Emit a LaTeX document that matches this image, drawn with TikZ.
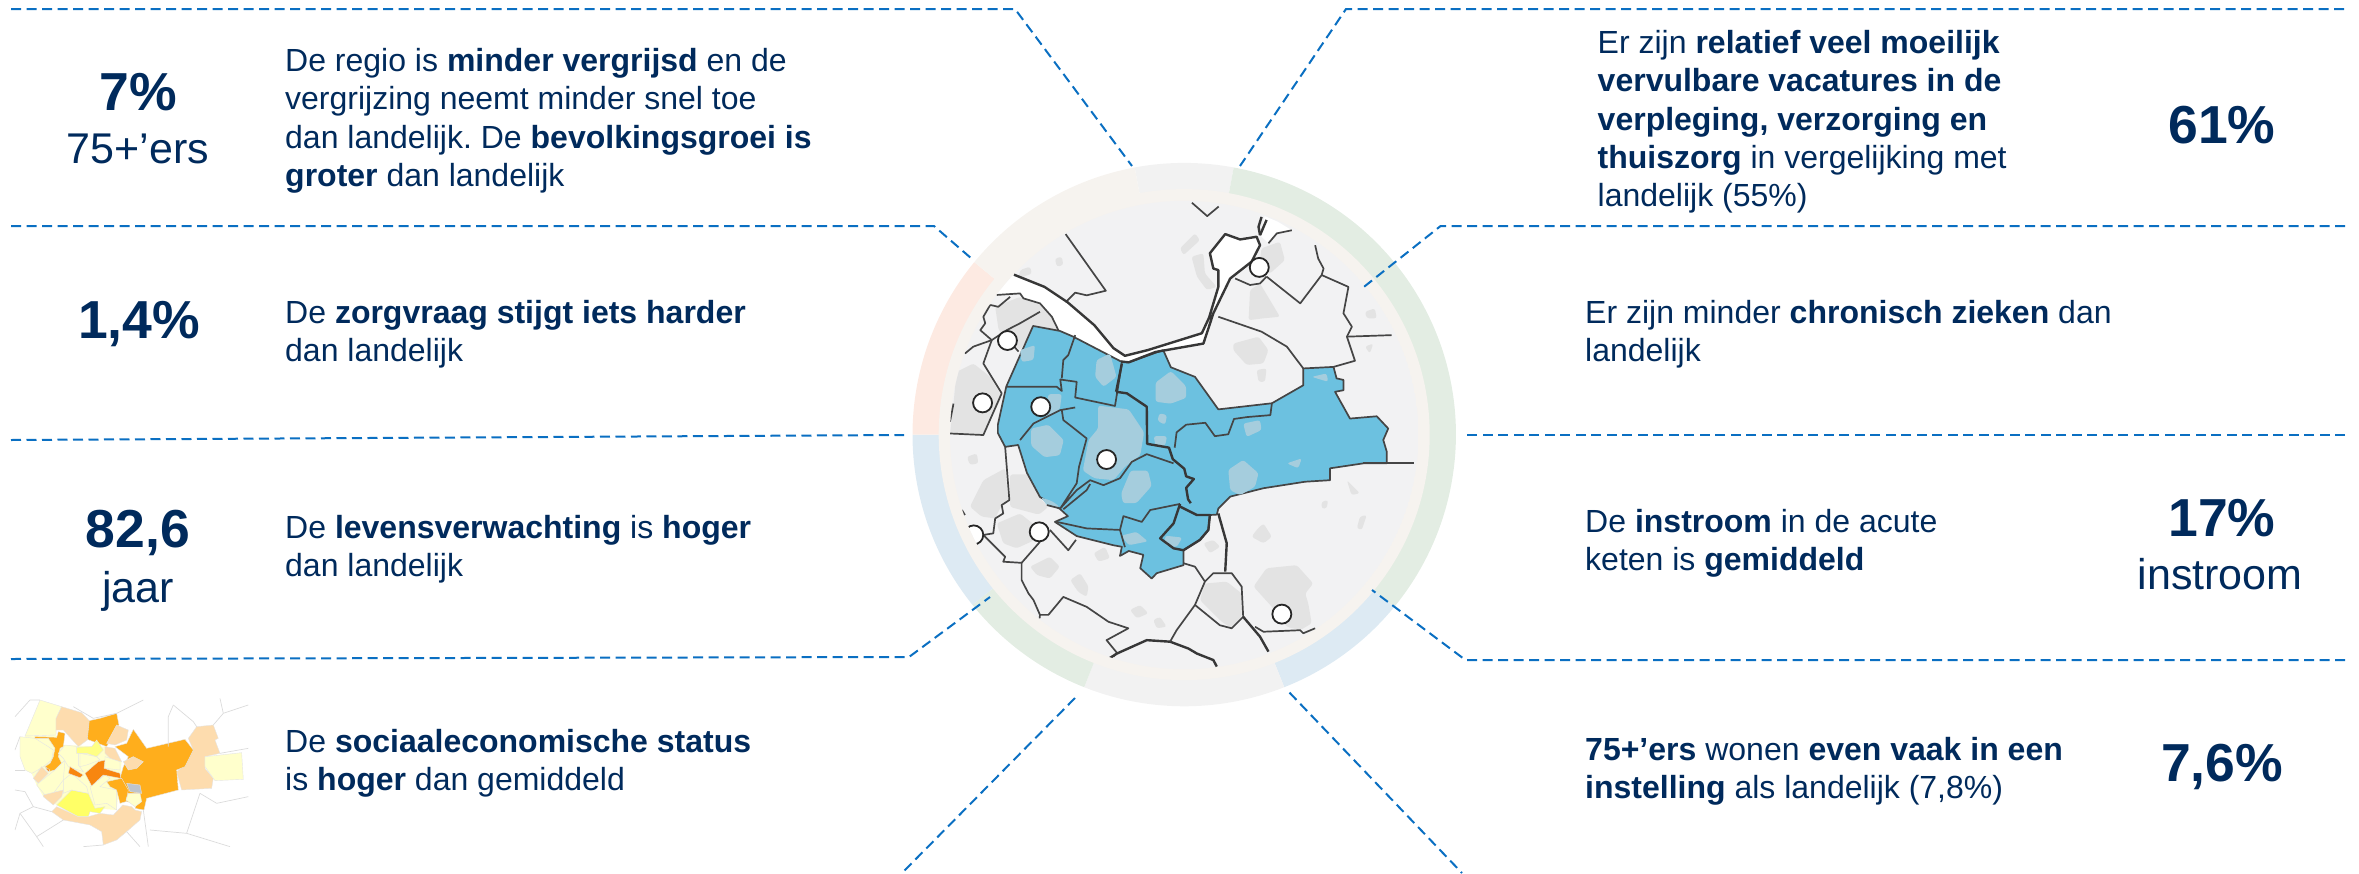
\documentclass[tikz,border=0pt]{standalone}
\usepackage{fontspec}
\setmainfont{Liberation Sans}
\definecolor{navy}{HTML}{002A5C}
\definecolor{dashblue}{HTML}{0A6FC2}
\definecolor{ringgray}{HTML}{F2F2F2}
\definecolor{ringgreen}{HTML}{E3EDE3}
\definecolor{ringblue}{HTML}{DDEAF3}
\definecolor{ringpeach}{HTML}{FDEAE2}
\definecolor{ringbeige}{HTML}{F6F3EF}
\definecolor{mapbg}{HTML}{F2F2F3}
\definecolor{urban}{HTML}{E3E3E3}
\definecolor{regio}{HTML}{6CC1E0}
\definecolor{urbanblue}{HTML}{A5CDDD}
\definecolor{mapline}{HTML}{454545}
\definecolor{ly}{HTML}{FFFFCC}
\definecolor{pe}{HTML}{FDDCAE}
\definecolor{or}{HTML}{FFAE1C}
\definecolor{dor}{HTML}{F8860F}
\definecolor{ye}{HTML}{FFFF66}
\definecolor{gy}{HTML}{BEC4CC}
\newcommand{\tp}{\rule{0pt}{30pt}}
\frenchspacing
\tikzset{
  link/.style={draw=dashblue,line width=2pt,dash pattern=on 10pt off 5.5pt},
  blocktext/.style={inner sep=0pt,anchor=north west,align=left,text=navy,font=\fontsize{32}{38.4}\selectfont},
  bignum/.style={inner sep=0pt,anchor=base,text=navy,font=\fontsize{53.5}{60}\selectfont\bfseries},
  subnum/.style={inner sep=0pt,anchor=base,text=navy,font=\fontsize{43}{50}\selectfont},
  mline/.style={draw=mapline,line width=1.7pt,line join=round},
  tline/.style={draw=mapline!80!black,line width=2.4pt,line join=round},
  pin/.style={circle,draw=black!85,line width=1.8pt,fill=white,minimum size=19pt,inner sep=0pt},
  miniline/.style={draw=black!14,line width=0.7pt},
}
\begin{document}
\begin{tikzpicture}[x=1pt,y=-1pt]
\useasboundingbox (0,0) rectangle (2359,873);
% ring
\begin{scope}[shift={(1184.2,434.6)},x=1pt,y=1pt]
\newcommand{\seg}[3]{\fill[#3] (#1:271.7pt) arc[start angle=#1,end angle=#2,radius=271.7pt] -- (#2:245pt) arc[start angle=#2,end angle=#1,radius=245pt] -- cycle;}
\seg{100.5}{79.5}{ringgray}
\seg{79.5}{-39.4}{ringgreen}
\seg{-39.4}{-68.4}{ringblue}
\seg{-68.4}{-111.6}{ringgray}
\seg{-111.6}{-141.2}{ringgreen}
\seg{-141.2}{-180}{ringblue}
\seg{180}{140.6}{ringpeach}
\seg{140.6}{100.5}{ringbeige}
\fill[ringbeige] (0,0) circle[radius=245.5pt];
\end{scope}
% map
\begin{scope}[shift={(880,130)},x=0.3827pt,y=-0.3827pt]
\clip (795,797) circle[radius=612];
\fill[mapbg] (795,797) circle[radius=612];
\foreach \p in {
 {(784,309)--(823,270)--(836,288)--(793,327)},
 {(814,331)--(845,322)--(849,375)--(880,410)--(854,418)--(828,383)},
 {(967,418)--(993,401)--(1045,488)--(1002,492)--(963,497)},
 {(923,558)--(989,540)--(1015,575)--(1002,610)--(958,614)--(923,575)},
 {(984,627)--(1010,623)--(1006,658)--(989,658)},
 {(997,309)--(1045,292)--(1058,340)--(1019,375)--(990,360)},
 {(1267,475)--(1293,466)--(1298,492)--(1272,492)},
 {(1267,566)--(1289,558)--(1280,584)},
 {(457,336)--(475,331)--(479,353)--(462,357)},
 {(366,366)--(392,357)--(397,375)--(362,388)},
 {(301,462)--(366,436)--(418,457)--(449,488)--(462,523)--(405,510)--(366,575)--(310,523)},
 {(200,632)--(244,610)--(288,645)--(318,697)--(270,797)--(183,793)--(192,715)},
 {(235,984)--(270,915)--(327,884)--(335,967)--(318,980)--(301,1015)--(265,1010)},
 {(340,900)--(385,900)--(420,965)--(440,985)--(415,1005)--(340,985)},
 {(305,1028)--(366,1002)--(410,1037)--(405,1071)--(357,1093)--(322,1080)},
 {(392,1141)--(444,1115)--(470,1141)--(444,1172)--(410,1163)},
 {(497,1176)--(523,1158)--(545,1193)--(540,1220)--(518,1207)},
 {(558,1106)--(588,1089)--(601,1119)--(571,1128)},
 {(653,1254)--(680,1241)--(701,1263)--(671,1276)},
 {(714,1280)--(732,1272)--(749,1298)--(723,1302)},
 {(227,854)--(253,845)--(257,871)--(235,875)},
 {(976,1193)--(1010,1145)--(1089,1137)--(1132,1185)--(1111,1211)--(1119,1237)--(1128,1289)--(1098,1307)--(1063,1298)--(1024,1246)},
 {(836,1228)--(849,1185)--(906,1180)--(945,1211)--(945,1272)--(919,1302)--(893,1285)},
 {(984,1045)--(1002,1028)--(1024,1063)--(1002,1080)--(971,1063)},
 {(845,1080)--(871,1071)--(889,1089)--(862,1106)},
 {(1254,1010)--(1272,1006)--(1259,1045)--(1246,1041)},
 {(1154,971)--(1171,967)--(1167,989)--(1154,989)},
 {(1220,915)--(1237,932)--(1254,949)--(1232,954)}
}{\fill[urban,rounded corners=2.5pt] \p -- cycle;}
% water
\fill[white] (300,392)--(350,378)--(430,410)--(490,450)--(560,510)--(610,570)--(640,590)--(700,575)--(841,531)--(860,490)--(884,410)--(884,366)--(871,362)--(862,322)--(902,272)--(941,286)--(984,279)--(993,301)--(971,344)--(915,388)--(871,479)--(845,558)--(720,580)--(650,607)--(630,605)--(505,540)--(466,523)--(449,488)--(418,453)--(375,440)--(366,427)--(305,431)--(200,420)--cycle;
\fill[white] (1005,225)--(1040,240)--(1076,262)--(1037,270)--(1015,296)--(993,275)--cycle;
% region
\path[fill=regio,mline] (400,512)--(470,525)--(505,540)--(630,605)--(650,607)--(740,575)--(760,620)--(823,645)--(884,730)--(1024,714)--(1106,667)--(1106,623)--(1185,619)--(1193,649)--(1211,653)--(1211,680)--(1189,684)--(1228,754)--(1298,748)--(1328,780)--(1315,810)--(1324,840)--(1324,871)--(1263,871)--(1176,884)--(1176,915)--(1111,919)--(1002,936)--(915,958)--(884,989)--(880,1005)--(862,1006)--(858,1045)--(836,1071)--(793,1098)--(793,1137)--(723,1158)--(710,1172)--(680,1145)--(688,1110)--(650,1100)--(627,1113)--(632,1089)--(610,1085)--(514,1061)--(457,1024)--(491,1009)--(470,990)--(418,959)--(384,896)--(361,823)--(327,828)--(308,792)--(308,770)--(330,670)--cycle;
\foreach \p in {
 {(570,720)--(650,730)--(690,790)--(680,850)--(640,880)--(610,915)--(560,910)--(530,890)--(545,810)--(570,780)},
 {(395,780)--(440,770)--(480,810)--(470,850)--(430,855)--(395,825)},
 {(440,690)--(475,690)--(470,730)--(430,750)},
 {(655,890)--(700,890)--(710,930)--(670,975)--(635,975)--(630,950)},
 {(366,575)--(405,562)--(401,601)--(370,606)},
 {(566,601)--(601,584)--(618,645)--(584,671)--(562,645)},
 {(720,660)--(760,630)--(800,670)--(800,700)--(760,715)--(720,710)},
 {(730,740)--(750,745)--(745,770)--(725,760)},
 {(715,800)--(750,800)--(745,825)--(720,825)},
 {(910,888)--(949,862)--(989,897)--(980,932)--(941,954)--(915,941)},
 {(1063,871)--(1102,858)--(1093,884)},
 {(949,767)--(993,758)--(997,784)--(958,802)},
 {(1128,645)--(1167,636)--(1171,658)},
 {(630,1060)--(670,1050)--(700,1075)--(650,1085)},
 {(745,1060)--(790,1065)--(775,1090)--(745,1085)},
 {(420,960)--(450,970)--(470,985)--(440,985)}
}{\fill[urbanblue,rounded corners=2.5pt] \p -- cycle;}
% lines over the region
\draw[mline] (331,671)--(462,671)--(475,682)--(471,652)--(514,658)--(510,699)--(614,721)--(632,610);
\draw[mline] (510,536)--(492,588)--(479,601)--(475,649);
\draw[mline] (366,810)--(401,767)--(471,732)--(510,725);
\draw[mline] (475,732)--(479,758)--(501,775)--(540,806)--(520,880)--(514,923)--(471,989)--(514,941)--(549,915)--(584,928)--(627,910)--(658,867)--(697,847)--(767,871);
\draw[mline] (479,991)--(540,941)--(549,925);
\draw[mline] (462,1024)--(540,1041)--(627,1045)--(636,1009)--(684,1024)--(706,993)--(784,977);
\draw[mline] (770,830)--(775,790)--(800,770)--(850,765)--(875,800)--(910,795)--(925,755)--(960,750)--(1020,745)--(1024,714);
\draw[mline] (627,1045)--(640,1090);
\draw[tline] (617,684)--(645,688)--(697,723)--(698,820)--(755,830)--(765,860)--(795,885)--(800,905)--(820,912)--(800,935)--(805,965)--(812,975);
\draw[tline] (617,684)--(632,610);
\draw[tline] (784,977)--(767,1028)--(732,1067)--(767,1093)--(793,1098)--(836,1071)--(858,1045)--(862,1006)--(828,1006)--(784,984);
% background lines
\draw[mline] (485,272)--(590,420)--(540,432)--(510,425)--(485,450);
\draw[mline] (815,190)--(855,225)--(885,200);
\draw[mline] (1010,383)--(1098,453)--(1154,379)--(1159,362)--(1145,336)--(1137,301);
\draw[mline] (1154,379)--(1224,410)--(1211,479)--(1233,514)--(1220,540)--(1241,603)--(1185,619);
\draw[mline] (1220,540)--(1337,536);
\draw[mline] (884,488)--(997,527)--(1063,566)--(1106,623);
\draw[mline] (928,388)--(967,405)--(993,401)--(1010,383);
\draw[tline] (350,378)--(430,410)--(490,450)--(560,510)--(610,570)--(640,590)--(700,575)--(841,531)--(860,490)--(884,410)--(884,366)--(871,362)--(862,322)--(902,272)--(941,286)--(984,279)--(993,301)--(971,344)--(915,388)--(871,479)--(845,558)--(720,580)--(650,607)--(630,605);
\draw[tline] (993,275)--(989,253)--(997,227);
\draw[tline] (1010,235)--(993,275);
\draw[mline] (1015,296)--(1037,270)--(1076,262);
\draw[mline] (305,431)--(366,427)--(375,440)--(418,453)--(449,488)--(466,523);
\draw[mline] (288,457)--(309,462)--(340,436);
\draw[mline] (288,457)--(270,488)--(275,505)--(262,523)--(292,549);
\draw[mline] (222,584)--(244,566)--(292,549)--(331,523)--(366,505)--(418,475);
\draw[mline] (292,549)--(270,610)--(318,688)--(270,797)--(183,793);
\draw[mline] (362,579)--(335,548);
\draw[mline] (183,762)--(192,715);
\draw[mline] (327,828)--(338,967)--(318,980)--(322,1002)--(301,1015)--(296,1054)--(270,1058)--(327,1115)--(322,1128)--(370,1131)--(418,1076);
\draw[mline] (214,993)--(222,1006);
\draw[mline] (370,1132)--(370,1176)--(388,1211)--(401,1228)--(418,1267)--(417,1276);
\draw[mline] (418,1267)--(440,1267)--(479,1220)--(540,1246)--(597,1285)--(649,1302)--(592,1333)--(619,1366)--(610,1376);
\draw[tline] (600,1380)--(619,1368)--(697,1333)--(758,1337)--(806,1355)--(828,1368)--(871,1385)--(880,1402);
\draw[mline] (758,1337)--(775,1307)--(823,1241)--(849,1180);
\draw[mline] (823,1241)--(888,1294)--(919,1302)--(949,1272);
\draw[mline] (849,1180)--(871,1158)--(919,1158)--(945,1193)--(949,1272);
\draw[tline] (949,1272)--(993,1324)--(1015,1363);
\draw[tline] (902,1154)--(906,1080)--(884,1002);
\draw[mline] (793,1132)--(823,1141)--(849,1180);
\draw[mline] (980,1298)--(1002,1311)--(1098,1307)--(1106,1315)--(1137,1302);
\draw[mline] (444,1045)--(492,1098)--(512,1071);
\draw[mline] (436,980)--(471,989);
\draw[mline] (1263,871)--(1394,871);
% pins
\foreach \n/\q in {pa/{(991,359)},pb/{(333,550)},pc/{(268,713)},pd/{(420,723)},pe/{(592,861)},pf/{(416,1050)},pg/{(245,1058)},ph/{(1050,1265)}}
 {\node[pin] (\n) at \q {};}
\end{scope}
% mini map
\begin{scope}[shift={(0,650)},x=0.3333pt,y=-0.3333pt]
\clip (45,145) rectangle (745,590);
\fill[ly] (75,258)--(168,255)--(190,285)--(315,290)--(365,335)--(360,385)--(350,480)--(285,475)--(170,465)--(130,440)--(110,405)--(95,370)--(60,320)--cycle;
\foreach \p/\c in {%
 {(120,150)--(185,170)--(170,205)--(168,255)--(75,258)--(95,210)}/ly,%
 {(168,205)--(185,170)--(245,188)--(268,212)--(262,270)--(235,290)--(190,240)--(168,240)}/pe,%
 {(350,190)--(357,225)--(320,290)--(262,268)--(268,212)--(300,205)}/or,%
 {(350,225)--(385,240)--(380,270)--(345,285)--(320,280)}/pe,%
 {(565,265)--(590,230)--(640,225)--(655,265)--(645,270)--(660,310)--(615,320)--(615,355)--(640,385)--(635,415)--(545,420)--(530,365)--(555,345)--(580,300)}/pe,%
 {(400,238)--(440,295)--(555,268)--(580,300)--(555,350)--(530,360)--(535,420)--(440,445)--(432,480)--(405,475)--(410,460)--(380,455)--(360,450)--(360,385)--(370,350)--(385,320)--(345,290)--(380,280)}/or,%
 {(615,320)--(725,308)--(730,388)--(645,392)--(615,350)}/ly,%
 {(315,290)--(345,295)--(365,335)--(335,330)--(315,310)}/pe,%
 {(315,320)--(360,335)--(360,360)--(315,355)}/ly,%
 {(370,335)--(400,320)--(430,335)--(410,355)--(385,360)}/pe,%
 {(60,260)--(105,265)--(145,290)--(160,300)--(155,330)--(130,350)--(105,365)--(95,370)--(75,360)--(60,320)}/ly,%
 {(105,260)--(170,262)--(175,245)--(195,250)--(190,290)--(180,295)--(175,320)--(185,340)--(165,360)--(145,365)--(135,350)--(150,340)--(160,320)--(165,295)--(145,265)--(105,265)}/or,%
 {(125,350)--(145,370)--(115,400)--(100,385)}/pe,%
 {(115,400)--(165,360)--(190,335)--(195,330)--(190,390)--(160,430)--(135,435)--(110,405)}/ly,%
 {(195,285)--(235,290)--(235,345)--(250,365)--(205,350)--(190,325)--(175,310)}/ly,%
 {(240,310)--(290,320)--(300,330)--(260,345)--(240,350)}/ly,%
 {(230,292)--(275,290)--(290,270)--(310,300)--(290,320)--(260,310)--(230,310)}/ye!70!ly,%
 {(130,435)--(190,420)--(185,440)--(160,465)--(130,440)}/pe,%
 {(155,485)--(170,470)--(235,500)--(265,500)--(300,490)--(340,495)--(368,465)--(395,470)--(405,480)--(425,485)--(420,510)--(380,545)--(350,570)--(310,585)--(305,545)--(270,525)--(190,510)}/pe,%
 {(170,465)--(215,420)--(265,430)--(285,475)--(315,470)--(300,490)--(270,485)--(265,500)--(235,500)}/ye,%
 {(190,390)--(215,370)--(260,410)--(265,430)--(215,420)--(190,430)}/ly,%
 {(270,410)--(315,375)--(330,385)--(300,410)--(350,420)--(350,480)--(320,460)--(285,465)}/ly,%
 {(320,395)--(365,385)--(385,420)--(378,455)--(360,460)--(350,420)--(330,410)}/or,%
 {(385,430)--(420,430)--(425,455)--(405,470)--(378,450)}/ly,%
 {(380,400)--(420,405)--(425,430)--(390,425)}/gy,%
 {(295,335)--(315,330)--(312,355)--(360,370)--(362,385)--(310,375)--(275,408)--(255,370)}/dor,%
 {(210,350)--(250,375)--(240,383)--(205,370)}/dor,%
 {(135,350)--(150,360)--(145,365)}/dor%
}{\fill[\c] \p -- cycle; \draw[black!10,line width=0.4pt] \p -- cycle;}
\draw[miniline] (45,200)--(90,150)--(120,150);
\draw[miniline] (220,170)--(280,205)--(350,190)--(430,150);
\draw[miniline] (520,165)--(505,200)--(505,290);
\draw[miniline] (520,165)--(580,215)--(590,230);
\draw[miniline] (640,225)--(670,190)--(660,145);
\draw[miniline] (670,190)--(745,165);
\draw[miniline] (660,310)--(745,295);
\draw[miniline] (45,420)--(75,425)--(100,470)--(60,490)--(45,540);
\draw[miniline] (100,470)--(155,485);
\draw[miniline] (60,490)--(110,560)--(190,510);
\draw[miniline] (130,590)--(110,560);
\draw[miniline] (430,480)--(445,590);
\draw[miniline] (450,540)--(560,550)--(600,430);
\draw[miniline] (560,550)--(690,590);
\draw[miniline] (600,430)--(650,460)--(745,440);
\draw[miniline] (380,545)--(420,590);
\draw[miniline] (310,585)--(250,590);
\draw[miniline] (60,260)--(45,300);
\draw[miniline] (75,360)--(45,360);
\end{scope}
% connectors
\coordinate (a1) at (11,9); \coordinate (a2) at (1015,9); \coordinate (a3) at (1132,166);
\coordinate (b1) at (11,226); \coordinate (b2) at (934,226); \coordinate (b3) at (972,259);
\coordinate (c1) at (11,440); \coordinate (c2) at (904,435);
\coordinate (d1) at (11,659); \coordinate (d2) at (909,657); \coordinate (d3) at (990,597);
\coordinate (e1) at (1075,698); \coordinate (e2) at (902,873);
\coordinate (f1) at (1289.5,692.6); \coordinate (f2) at (1462,873);
\coordinate (g1) at (2344,9); \coordinate (g2) at (1346,9); \coordinate (g3) at (1240,166);
\coordinate (h1) at (2345,226); \coordinate (h2) at (1440.6,226); \coordinate (h3) at (1360,290);
\coordinate (i1) at (2345,435); \coordinate (i2) at (1463.6,435);
\coordinate (j1) at (2345,660); \coordinate (j2) at (1465.5,660); \coordinate (j3) at (1372,590);
\draw[link] (a1)--(a2)--(a3);
\draw[link] (b1)--(b2)--(b3);
\draw[link] (c1)--(c2);
\draw[link] (d1)--(d2)--(d3);
\draw[link] (e1)--(e2);
\draw[link] (f1)--(f2);
\draw[link] (g1)--(g2)--(g3);
\draw[link] (h1)--(h2)--(h3);
\draw[link] (i1)--(i2);
\draw[link] (j1)--(j2)--(j3);
% left column
\node[bignum] (n1) at (138,110) {7\%};
\node[subnum] (s1) at (138,163) {75+’ers};
\node[bignum] (n2) at (139,338) {1,4\%};
\node[bignum] (n3) at (138,547) {82,6};
\node[subnum] (s3) at (138,602) {jaar};
\node[blocktext] (t1) at (285,41) {\tp De regio is \textbf{minder vergrijsd} en de\\vergrijzing neemt minder snel toe\\dan landelijk. De \textbf{bevolkingsgroei is}\\\textbf{groter} dan landelijk};
\node[blocktext] (t2) at (285,293) {\tp De \textbf{zorgvraag stijgt iets harder}\\dan landelijk};
\node[blocktext] (t3) at (285,508) {\tp De \textbf{levensverwachting} is \textbf{hoger}\\dan landelijk};
\node[blocktext] (t4) at (285,722) {\tp De \textbf{sociaaleconomische status}\\is \textbf{hoger} dan gemiddeld};
% right column
\node[blocktext] (t5) at (1597.5,23) {\tp Er zijn \textbf{relatief veel moeilijk}\\\textbf{vervulbare vacatures in de}\\\textbf{verpleging, verzorging en}\\\textbf{thuiszorg} in vergelijking met\\landelijk (55\%)};
\node[blocktext] (t6) at (1585,293) {\tp Er zijn minder \textbf{chronisch zieken} dan\\landelijk};
\node[blocktext] (t7) at (1585,502) {\tp De \textbf{instroom} in de acute\\keten is \textbf{gemiddeld}};
\node[blocktext] (t8) at (1585,730) {\tp \textbf{75+’ers} wonen \textbf{even vaak in een}\\\textbf{instelling} als landelijk (7,8\%)};
\node[bignum] (n5) at (2222,143) {61\%};
\node[bignum] (n7) at (2222,536) {17\%};
\node[subnum] (s7) at (2220,589) {instroom};
\node[bignum] (n8) at (2222,781) {7,6\%};
\end{tikzpicture}
\end{document}
